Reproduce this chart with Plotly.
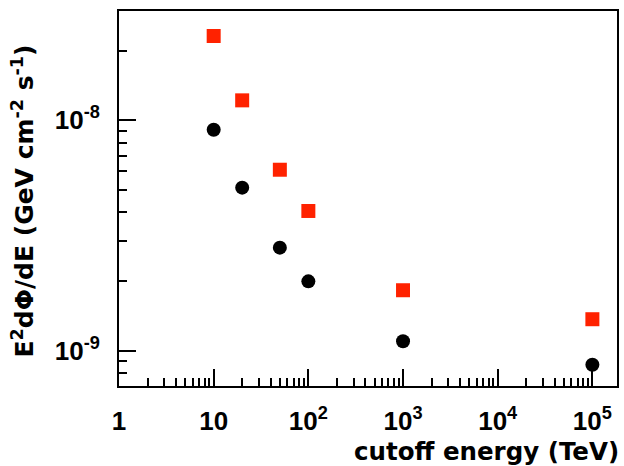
import plotly.graph_objects as go

# cutoff energies (TeV) and the two flux series
cutoff_tev = [10, 20, 50, 100, 1000, 100000]
flux_circles = [9.1e-9, 5.1e-9, 2.8e-9, 2.0e-9, 1.10e-9, 8.7e-10]
flux_squares = [2.32e-8, 1.22e-8, 6.1e-9, 4.04e-9, 1.83e-9, 1.37e-9]

x_tick_vals = [1, 10, 100, 1000, 10000, 100000]
x_tick_text = ["1", "10", "10<sup>2</sup>", "10<sup>3</sup>", "10<sup>4</sup>", "10<sup>5</sup>"]
y_tick_vals = [1e-9, 1e-8]
y_tick_text = ["10<sup>-9</sup>", "10<sup>-8</sup>"]

TICK_FONT = "Liberation Sans, Arial, sans-serif"
TITLE_FONT = "DejaVu Sans, sans-serif"

x_minor = [m * 10 ** d for d in range(0, 5) for m in range(2, 10)]
y_minor = [m * 10 ** d for d in (-10, -9, -8) for m in range(2, 10)]

fig = go.Figure()
fig.add_trace(go.Scatter(
    x=cutoff_tev, y=flux_circles, mode="markers",
    marker=dict(symbol="circle", size=14, color="black", line=dict(width=0)),
    showlegend=False,
))
fig.add_trace(go.Scatter(
    x=cutoff_tev, y=flux_squares, mode="markers",
    marker=dict(symbol="square", size=14, color="#ff2200", line=dict(width=0)),
    showlegend=False,
))

fig.update_layout(
    width=624, height=466,
    margin=dict(l=119, r=5, t=11, b=80),
    paper_bgcolor="white", plot_bgcolor="white",
    font=dict(family=TICK_FONT, size=26, color="black"),
    xaxis=dict(
        type="log", range=[0, 5.26],
        showgrid=False, zeroline=False,
        showline=True, linecolor="black", linewidth=2, mirror=True,
        ticks="inside", ticklen=17, tickwidth=1.5, tickcolor="black",
        tickmode="array", tickvals=x_tick_vals, ticktext=x_tick_text,
        tickfont=dict(family=TICK_FONT, size=26, color="black", weight="bold"),
        ticklabelstandoff=11,
        minor=dict(ticks="inside", ticklen=8, tickwidth=1.5, tickcolor="black",
                   tickmode="array", tickvals=x_minor, showgrid=False),
    ),
    yaxis=dict(
        type="log", range=[-9.153, -7.526],
        showgrid=False, zeroline=False,
        showline=True, linecolor="black", linewidth=2, mirror=True,
        ticks="inside", ticklen=17, tickwidth=1.5, tickcolor="black",
        tickmode="array", tickvals=y_tick_vals, ticktext=y_tick_text,
        tickfont=dict(family=TICK_FONT, size=26, color="black", weight="bold"),
        ticklabelstandoff=12,
        minor=dict(ticks="inside", ticklen=8, tickwidth=1.5, tickcolor="black",
                   tickmode="array", tickvals=y_minor, showgrid=False),
    ),
    annotations=[
        dict(
            text="cutoff energy (TeV)",
            xref="paper", yref="paper", x=1, y=0,
            xanchor="right", yanchor="top", yshift=-50, xshift=3,
            showarrow=False, borderpad=0,
            font=dict(family=TITLE_FONT, size=24.5, color="black", weight="bold"),
        ),
        dict(
            text="E<sup>2</sup>dΦ/dE (GeV cm<sup>-2</sup> s<sup>-1</sup>)",
            xref="paper", yref="paper", x=0, y=1,
            xanchor="center", yanchor="top", xshift=-96, yshift=-32,
            textangle=-90, showarrow=False,
            font=dict(family=TITLE_FONT, size=25, color="black", weight="bold"),
        ),
    ],
)

fig.write_html("out.html")
